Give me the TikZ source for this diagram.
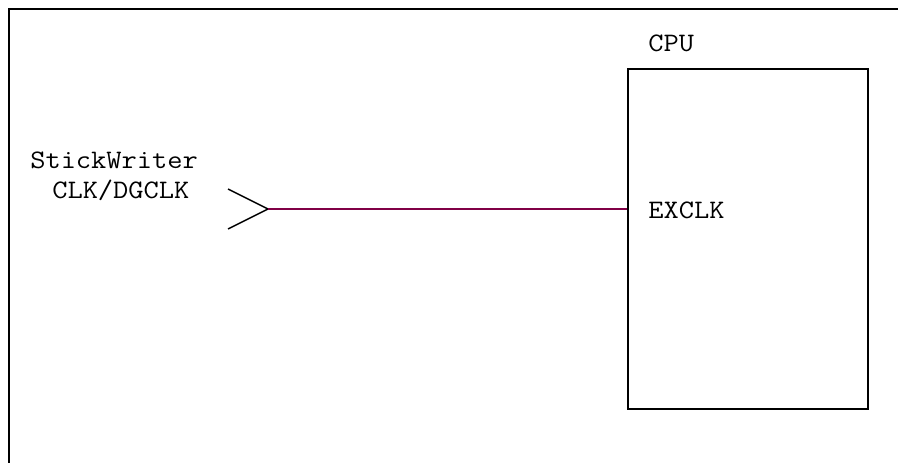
\documentclass[tikz,border=0pt]{standalone}
\usepackage{fontspec}
\setmonofont[FakeStretch=1.11]{Latin Modern Mono}
\usetikzlibrary{positioning}
\definecolor{wire}{RGB}{128,0,70}
\tikzset{
  label/.style={font=\ttfamily\fontsize{20pt}{23pt}\selectfont, inner sep=0pt, anchor=base west},
  chip/.style={rectangle, draw, line width=1.5pt, minimum width=180pt, minimum height=255pt, inner sep=0pt},
  pin/.style={line width=1.1pt},
  signal/.style={draw=wire, line width=1.1pt},
}

\begin{document}
\begin{tikzpicture}[x=0.75pt, y=-0.75pt]
\useasboundingbox (0,0) rectangle (898,463);
% frame
\draw[line width=1.3pt] (9,463) -- (9,9) -- (898,9);
% cpu
\node[chip] (cpu) at (748,239) {};
\node[label] (cpuname) at (648,52) {CPU};
\node[label] (exclk) at (648,219) {EXCLK};
% stickwriter connector
\node[label] (stick) at (30,169) {StickWriter};
\node[label] (clkname) at (52,199) {CLK/DGCLK};
\coordinate (clkin) at (268,209);
\coordinate (pintop) at (228,189);
\coordinate (pinbot) at (228,229);
\draw[pin] (pintop) -- (clkin) -- (pinbot);
\draw[signal] (clkin) -- (clkin -| cpu.west);
\end{tikzpicture}
\end{document}
